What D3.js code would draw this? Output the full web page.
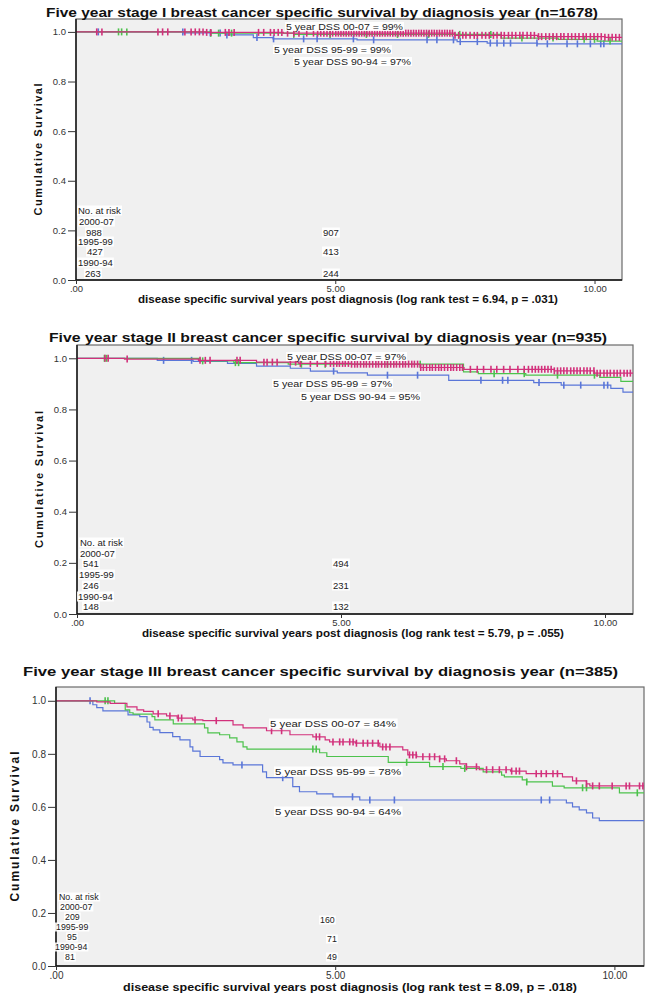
<!DOCTYPE html>
<html><head><meta charset="utf-8">
<script src="https://cdn.jsdelivr.net/npm/d3@7"></script>
<style>
body{margin:0;background:#fff}
svg{display:block}
text{font-family:"Liberation Sans",Arial,sans-serif}
</style>
</head><body>
<svg id="c" width="655" height="1003"></svg>
<script>
// ---------------- DATA ----------------
const titles = [
  "Five year stage I breast cancer specific survival by diagnosis year (n=1678)",
  "Five year stage II breast cancer specific survival by diagnosis year (n=935)",
  "Five year stage III breast cancer specific survival by diagnosis year (n=385)"
];
const xLabels = [
  "disease specific survival years post diagnosis (log rank test = 6.94, p = .031)",
  "disease specific survival years post diagnosis (log rank test = 5.79, p = .055)",
  "disease specific survival years post diagnosis (log rank test = 8.09, p = .018)"
];
const yLabel = "Cumulative Survival";
const xTicks = [0, 5, 10];
const xTickLabels = [".00", "5.00", "10.00"];
const yTicks = [0, 0.2, 0.4, 0.6, 0.8, 1.0];
const yTickLabels = ["0.0", "0.2", "0.4", "0.6", "0.8", "1.0"];
const groups = ["2000-07", "1995-99", "1990-94"];
const dssLabels = [
  ["5 year DSS 00-07 = 99%", "5 year DSS 95-99 = 99%", "5 year DSS 90-94 = 97%"],
  ["5 year DSS 00-07 = 97%", "5 year DSS 95-99 = 97%", "5 year DSS 90-94 = 95%"],
  ["5 year DSS 00-07 = 84%", "5 year DSS 95-99 = 78%", "5 year DSS 90-94 = 64%"]
];
const atRisk0 = [[988, 427, 263], [541, 246, 148], [209, 95, 81]];
const atRisk5 = [[907, 413, 244], [494, 231, 132], [160, 71, 49]];

// Kaplan-Meier steps: [time (years), survival after drop]
const s1Pink  = [[2.5,0.998],[4.0,0.995],[7.3,0.986],[8.9,0.981],[10.2,0.978]];
const s1Green = [[2.6,0.995],[4.2,0.990],[8.2,0.975],[9.3,0.970],[10.05,0.963]];
const s1Blue  = [[2.07,0.996],[2.9,0.988],[3.42,0.977],[3.8,0.972],[5.42,0.968],[7.35,0.961],[7.93,0.955],[8.9,0.952]];

const s2Pink  = [[0.9,0.997],[2.3,0.992],[3.4,0.985],[4.2,0.980],[5.2,0.977],[6.5,0.964],[7.33,0.957],[9.04,0.951],[9.8,0.942]];
const s2Green = [[2.33,0.990],[2.97,0.983],[4.0,0.977],[7.32,0.947],[7.6,0.940],[8.5,0.934],[9.9,0.925],[10.3,0.910]];
const s2Blue  = [[1.52,0.992],[2.2,0.988],[2.85,0.980],[3.4,0.969],[4.04,0.961],[4.42,0.950],[4.93,0.943],[5.5,0.934],[7.04,0.914],[8.65,0.905],[9.17,0.895],[10.11,0.882],[10.34,0.868]];

const s3Pink  = [[0.73,0.996],[0.97,0.990],[1.27,0.977],[1.45,0.966],[1.57,0.960],[1.74,0.951],[1.98,0.943],[2.17,0.935],[2.45,0.928],[2.63,0.925],[3.17,0.909],[3.35,0.898],[3.77,0.887],[4.19,0.872],[4.60,0.864],[4.82,0.853],[4.90,0.845],[5.36,0.840],[5.80,0.826],[6.21,0.815],[6.30,0.796],[6.46,0.789],[6.87,0.781],[6.99,0.774],[7.23,0.762],[7.35,0.751],[7.58,0.740],[8.14,0.735],[8.42,0.725],[9.07,0.713],[9.25,0.698],[9.50,0.687],[9.56,0.679]];
const s3Green = [[1.05,0.990],[1.24,0.966],[1.32,0.955],[1.38,0.950],[1.72,0.940],[1.77,0.928],[2.10,0.913],[2.66,0.898],[2.72,0.879],[2.93,0.872],[3.11,0.860],[3.24,0.845],[3.35,0.826],[3.42,0.818],[4.72,0.804],[4.85,0.790],[5.95,0.768],[6.69,0.752],[7.25,0.745],[7.65,0.732],[7.98,0.720],[8.03,0.713],[8.35,0.702],[8.43,0.694],[8.89,0.678],[9.10,0.672],[10.09,0.653]];
const s3Blue  = [[0.66,0.985],[0.73,0.974],[0.84,0.962],[1.29,0.947],[1.50,0.940],[1.63,0.920],[1.68,0.900],[1.74,0.890],[1.86,0.880],[2.09,0.865],[2.22,0.853],[2.40,0.826],[2.45,0.810],[2.58,0.790],[2.93,0.778],[2.99,0.766],[3.17,0.758],[3.70,0.732],[3.77,0.710],[4.24,0.676],[4.36,0.657],[4.67,0.649],[4.96,0.638],[5.44,0.626],[9.14,0.615],[9.25,0.600],[9.37,0.589],[9.50,0.577],[9.61,0.558],[9.73,0.548]];

// censored observations (years)
const c1Pink  = [0.40,0.50,1.58,1.67,1.77,2.10,2.22,2.30,2.38,2.45,2.52,2.60,2.88,2.95,3.05,3.52,3.62,3.75,3.82,3.90,3.97,4.08,4.20,4.30,4.45,4.58,4.66,4.72,4.78,4.84,4.90,4.95,5.01,5.06,5.11,5.16,5.21,5.26,5.31,5.36,5.41,5.46,5.51,5.56,5.61,5.66,5.71,5.76,5.81,5.86,5.91,5.96,6.01,6.06,6.11,6.16,6.21,6.26,6.31,6.36,6.41,6.46,6.51,6.56,6.61,6.66,6.71,6.76,6.81,6.86,6.91,6.96,7.01,7.06,7.11,7.16,7.21,7.26,7.31,7.38,7.46,7.52,7.60,7.68,7.74,7.83,7.90,7.97,8.05,8.12,8.20,8.26,8.34,8.41,8.48,8.56,8.62,8.70,8.77,8.84,8.92,8.98,9.06,9.13,9.20,9.27,9.35,9.41,9.49,9.56,9.63,9.70,9.78,9.84,9.92,9.99,10.06,10.13,10.20,10.27,10.34,10.41,10.48];
const c1Green = [0.82,0.88,0.98,2.60,2.75,3.00,4.20,4.90,5.60,6.20,6.80,7.40,8.00,8.60,9.20,9.80,10.00,10.30];
const c1Blue  = [0.43,2.06,2.59,2.78,2.91,3.49,3.81,4.39,4.65,5.35,5.74,6.77,6.96,7.28,7.41,7.74,7.99,8.12,8.25,8.38,8.89,9.09,9.47,9.67,9.92,10.12,10.18];

const c2Pink  = [0.53,0.59,0.95,2.33,2.43,2.52,3.03,3.09,3.54,3.60,3.70,3.79,4.04,4.14,4.23,4.42,4.55,4.71,4.80,4.86,4.92,4.97,5.03,5.08,5.14,5.20,5.26,5.31,5.37,5.43,5.48,5.54,5.60,5.66,5.71,5.77,5.83,5.88,5.94,6.00,6.05,6.11,6.17,6.22,6.28,6.34,6.39,6.45,6.51,6.56,6.62,6.68,6.73,6.79,6.85,6.90,6.96,7.02,7.08,7.13,7.19,7.25,7.30,7.45,7.58,7.70,7.84,7.95,8.08,8.20,8.35,8.47,8.55,8.62,8.68,8.74,8.80,8.86,8.92,8.98,9.04,9.10,9.16,9.22,9.28,9.35,9.41,9.47,9.53,9.60,9.66,9.72,9.79,9.85,9.91,9.98,10.04,10.10,10.17,10.23,10.29,10.36,10.42,10.48];
const c2Green = [0.52,0.56,2.38,3.00,3.06,4.25,4.70,5.88,6.50,7.90,8.47,9.10,9.80];
const c2Blue  = [1.64,2.17,4.86,5.88,6.45,7.65,8.06,8.16,8.75,9.22,9.54,9.98,10.05];

const c3Pink  = [1.83,2.04,2.19,2.25,2.49,2.87,3.86,4.04,4.66,4.72,4.96,5.08,5.14,5.26,5.32,5.38,5.50,5.58,5.67,5.77,5.85,5.91,5.98,6.33,6.39,6.45,6.57,6.69,6.78,6.87,6.96,7.17,7.35,7.53,7.71,7.82,7.94,8.06,8.16,8.24,8.30,8.60,8.69,8.78,8.90,8.98,9.32,9.50,9.61,9.73,9.96,10.21,10.27,10.45,10.51];
const c3Green = [0.88,0.93,4.60,4.66,6.28,6.93,7.32,8.43,9.43,9.50,10.41];
const c3Blue  = [0.61,3.33,4.06,5.31,5.62,6.06,8.69,8.84];

const colors = {pink:"#d2307b", green:"#4cc24c", blue:"#5a76d8"};

// ---------------- LAYOUT ----------------
const layout = [
  {left:76, top:19, right:622, bottom:280,
   title:{x:322, y:16.5, w:552, fs:13}, xlab:{x:348, y:303, w:420, fs:10},
   ylab:{x:42, w:132, fs:11}, tickFs:9.5, tickPad:1.5,
   dss:[[286,29.5],[274,52.5],[294,64.5]], dssW:117, dssFs:9,
   risk:{x0:[78,79,86,78,87,78,85], y0:[214,225,236,245,255,266,277], x5:[323,323,323], y5:[236,255,277], fs:9.5}},
  {left:77, top:345, right:633, bottom:614,
   title:{x:328, y:342, w:558, fs:13}, xlab:{x:353, y:637, w:422, fs:10},
   ylab:{x:43, w:137, fs:11}, tickFs:9.5, tickPad:1.5,
   dss:[[287,359.5],[273,386.5],[301,399.5]], dssW:119, dssFs:9,
   risk:{x0:[80,80,83,79,83,78,83], y0:[546,557,567,578,589,600,610], x5:[333,333,333], y5:[567,589,610], fs:9.5}},
  {left:56, top:687, right:644, bottom:966,
   title:{x:320.5, y:676, w:595, fs:13.5}, xlab:{x:350, y:991, w:454, fs:10.5},
   ylab:{x:19, w:150, fs:12}, tickFs:10, tickPad:2,
   dss:[[270,727],[275,775],[275,815]], dssW:126, dssFs:9.5,
   risk:{x0:[59,60,65,56,67,55,65], y0:[900,910,920,930,940,950,960], x5:[320,327,327], y5:[923,942,960], fs:8.8}}
];

const panels = [
  {steps:[s1Blue,s1Green,s1Pink], cens:[c1Blue,c1Green,c1Pink]},
  {steps:[s2Blue,s2Green,s2Pink], cens:[c2Blue,c2Green,c2Pink]},
  {steps:[s3Blue,s3Green,s3Pink], cens:[c3Blue,c3Green,c3Pink]}
];
const seriesColors = [colors.blue, colors.green, colors.pink];
const xMax = 10.53, yMax = 1.052;

// ---------------- DRAW ----------------
const svg = d3.select("#c");

function survAt(steps, t){
  let s = 1;
  for (const [tt, v] of steps){ if (tt <= t) s = v; else break; }
  return s;
}
function boxedText(g, x, y, str, fs, w){
  const t = g.append("text").attr("x", x).attr("y", y).attr("font-size", fs).attr("fill", "#222").text(str);
  if (w) t.attr("textLength", w).attr("lengthAdjust", "spacingAndGlyphs");
  const b = t.node().getBBox();
  g.insert("rect", () => t.node())
    .attr("x", b.x - 1).attr("y", b.y + 0.5).attr("width", b.width + 2).attr("height", b.height - 1)
    .attr("fill", "#ffffff").attr("opacity", 0.9);
  return t;
}

panels.forEach((p, i) => {
  const L = layout[i];
  const x = d3.scaleLinear().domain([0, xMax]).range([L.left, L.right]);
  const y = d3.scaleLinear().domain([0, yMax]).range([L.bottom, L.top]);
  const g = svg.append("g");

  g.append("rect").attr("x", L.left).attr("y", L.top)
    .attr("width", L.right - L.left).attr("height", L.bottom - L.top)
    .attr("fill", "#f0f0f0").attr("stroke", "#6a6a6a").attr("stroke-width", 1.2);

  const clipId = "clip" + i;
  g.append("clipPath").attr("id", clipId).append("rect")
    .attr("x", L.left).attr("y", L.top - 4).attr("width", L.right - L.left).attr("height", L.bottom - L.top + 4);

  const curves = g.append("g").attr("clip-path", `url(#${clipId})`);
  const line = d3.line().x(d => x(d[0])).y(d => y(d[1])).curve(d3.curveStepAfter);
  p.steps.forEach((st, k) => {
    const pts = [[0, 1], ...st, [xMax, st[st.length - 1][1]]];
    curves.append("path").attr("d", line(pts)).attr("fill", "none")
      .attr("stroke", seriesColors[k]).attr("stroke-width", 1.2);
    curves.selectAll(null).data(p.cens[k]).join("line")
      .attr("x1", d => x(d)).attr("x2", d => x(d))
      .attr("y1", d => y(survAt(st, d)) - 3.5).attr("y2", d => y(survAt(st, d)) + 3.5)
      .attr("stroke", seriesColors[k]).attr("stroke-width", 1.6);
  });

  // axes
  const ya = d3.axisLeft(y).tickValues(yTicks).tickFormat((d, j) => yTickLabels[j])
    .tickSize(8).tickSizeOuter(0).tickPadding(2);
  const yg = g.append("g").attr("transform", `translate(${L.left},0)`).call(ya);
  yg.select(".domain").attr("d", `M0,${L.bottom}V${L.top}`).attr("stroke", "#111").attr("stroke-width", 1.4);
  yg.selectAll(".tick line").attr("stroke", "#333");
  yg.selectAll(".tick text").attr("font-size", L.tickFs).attr("fill", "#333").attr("font-family", "Liberation Sans, Arial, sans-serif");

  const xa = d3.axisBottom(x).tickValues(xTicks).tickFormat((d, j) => xTickLabels[j])
    .tickSize(4).tickSizeOuter(0).tickPadding(L.tickPad);
  const xg = g.append("g").attr("transform", `translate(0,${L.bottom})`).call(xa);
  xg.select(".domain").attr("d", `M${L.left},0H${L.right}`).attr("stroke", "#111").attr("stroke-width", 1.4);
  xg.selectAll(".tick line").attr("stroke", "#333");
  xg.selectAll(".tick text").attr("font-size", L.tickFs).attr("fill", "#333").attr("font-family", "Liberation Sans, Arial, sans-serif");

  // title
  g.append("text").attr("x", L.title.x).attr("y", L.title.y).attr("text-anchor", "middle")
    .attr("font-size", L.title.fs).attr("font-weight", "bold").attr("fill", "#111")
    .attr("textLength", L.title.w).attr("lengthAdjust", "spacingAndGlyphs").text(titles[i]);

  // x label
  g.append("text").attr("x", L.xlab.x).attr("y", L.xlab.y).attr("text-anchor", "middle")
    .attr("font-size", L.xlab.fs).attr("font-weight", "bold").attr("fill", "#111")
    .attr("textLength", L.xlab.w).attr("lengthAdjust", "spacingAndGlyphs").text(xLabels[i]);

  // y label
  const yc = (L.top + L.bottom) / 2;
  g.append("text").attr("transform", `translate(${L.ylab.x},${yc}) rotate(-90)`).attr("text-anchor", "middle")
    .attr("font-size", L.ylab.fs).attr("font-weight", "bold").attr("fill", "#111")
    .attr("textLength", L.ylab.w).attr("lengthAdjust", "spacing").text(yLabel);

  // DSS annotations
  dssLabels[i].forEach((s, k) => {
    boxedText(g, L.dss[k][0], L.dss[k][1], s, L.dssFs, L.dssW);
  });

  // number at risk
  const R = L.risk;
  const leftTexts = ["No. at risk"];
  groups.forEach((gr, k) => { leftTexts.push(gr); leftTexts.push(String(atRisk0[i][k])); });
  leftTexts.forEach((s, k) => boxedText(g, R.x0[k], R.y0[k], s, R.fs));
  atRisk5[i].forEach((v, k) => boxedText(g, R.x5[k], R.y5[k], String(v), R.fs));
});
</script>
</body></html>
